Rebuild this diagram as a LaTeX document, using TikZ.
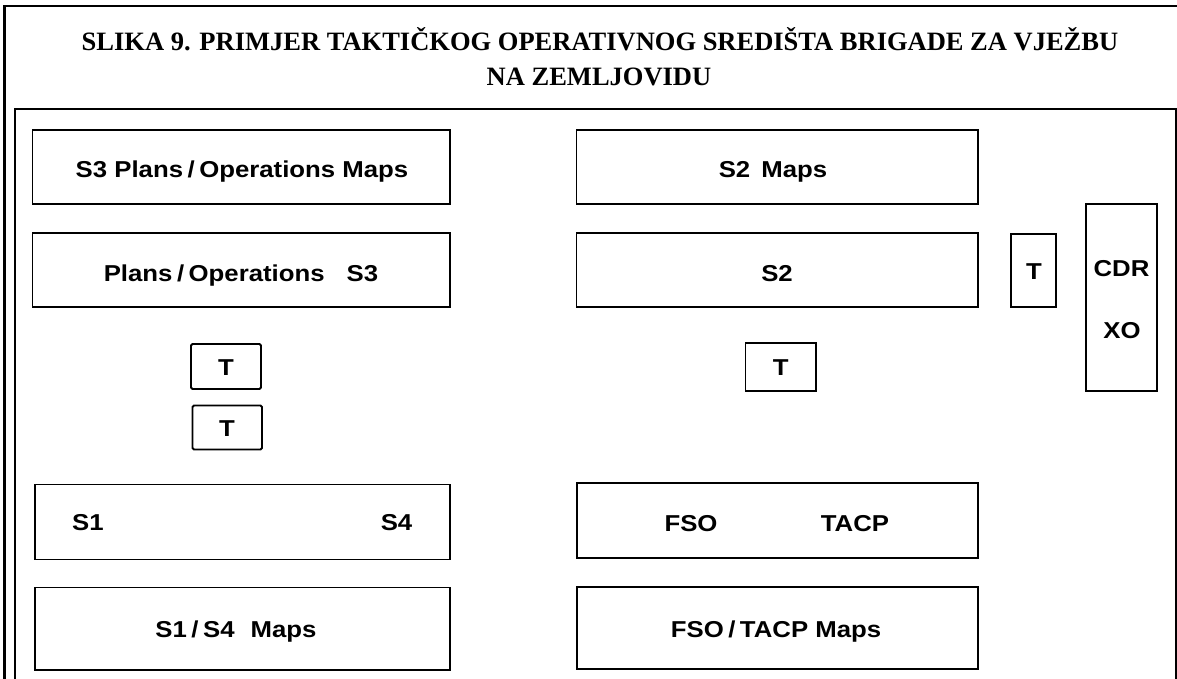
\documentclass[tikz,border=0pt]{standalone}
\usepackage{fontspec}
\newfontfamily\lblfont{Liberation Sans}[FakeStretch=1.12]
\newfontfamily\ttlfont{Liberation Serif}
\newcommand\slsh{\hspace{4.5pt}/\hspace{4.5pt}}
\begin{document}
\begin{tikzpicture}[x=1pt,y=-1pt,
  bx/.style={draw, line width=1.8pt, inner sep=0pt, rectangle},
  tbx/.style={draw, line width=1.8pt, inner sep=0pt, rectangle, rounded corners=1.5pt},
  lbl/.style={font=\lblfont\bfseries\fontsize{23}{23}\selectfont, anchor=base, inner sep=0pt},
  ttl/.style={font=\ttlfont\bfseries\fontsize{26.5}{26.5}\selectfont, anchor=base, inner sep=0pt}]
\useasboundingbox (0,0) rectangle (1177,679);
\clip (0,0) rectangle (1177,679);
% frames
\draw[line width=2.6pt] (4.5,6) rectangle (1200,720);
\draw[line width=2pt] (14.7,720) -- (14.7,108.7) -- (1200,108.7);
\draw[line width=1.2pt] (1176,108.7) -- (1176,720);
% title
\node[ttl] (title1) at (600,51) {SLIKA 9. PRIMJER TAKTIČKOG OPERATIVNOG SREDIŠTA BRIGADE ZA VJEŽBU};
\node[ttl] (title2) at (599,86) {NA ZEMLJOVIDU};
% boxes
\node[bx, minimum width=417.5pt, minimum height=74pt] (s3maps) at (241.25,167) {};
\node[bx, minimum width=417.5pt, minimum height=74pt] (s3) at (241.25,270) {};
\node[bx, minimum width=401.5pt, minimum height=74pt] (s2maps) at (777.25,167) {};
\node[bx, minimum width=401.5pt, minimum height=74pt] (s2) at (777.25,270) {};
\node[bx, minimum width=45pt, minimum height=73pt] (ts2) at (1033.5,270.5) {};
\node[bx, minimum width=71pt, minimum height=187pt] (cdr) at (1121.5,297.5) {};
\node[tbx, minimum width=70pt, minimum height=45pt] (t1) at (226,366.5) {};
\node[tbx, minimum width=69.5pt, minimum height=44pt] (t2) at (227.25,427.5) {};
\node[bx, minimum width=70.6pt, minimum height=48pt] (tmid) at (780.7,367) {};
\node[bx, minimum width=415pt, minimum height=75pt] (s1s4) at (242.5,522) {};
\node[bx, minimum width=415pt, minimum height=82.5pt] (s1s4maps) at (242.5,628.75) {};
\node[bx, minimum width=401.6pt, minimum height=75pt] (fso) at (777.5,520.8) {};
\node[bx, minimum width=401.6pt, minimum height=81.7pt] (fsomaps) at (777.5,628.2) {};
% labels
\node[lbl] (l-s3maps) at (242,178) {S3 Plans\slsh Operations Maps};
\node[lbl] (l-s3) at (241,281) {Plans\slsh Operations\hspace{22pt}S3};
\node[lbl] (l-s2maps) at (773,178) {S2\hspace{4pt} Maps};
\node[lbl] (l-s2) at (777,281) {S2};
\node[lbl] (l-ts2) at (1034,279) {T};
\node[lbl] (l-cdr) at (1121.5,276) {CDR};
\node[lbl] (l-xo) at (1122,338) {XO};
\node[lbl] (l-t1) at (226,375) {T};
\node[lbl] (l-t2) at (227,436) {T};
\node[lbl] (l-tmid) at (780.7,375.5) {T};
\node[lbl] (l-s1) at (88,530) {S1};
\node[lbl] (l-s4) at (396.5,530) {S4};
\node[lbl] (l-s1s4maps) at (236,637) {S1\slsh S4\hspace{16pt}Maps};
\node[lbl] (l-fso) at (691,531.5) {FSO};
\node[lbl] (l-tacp) at (855,531.5) {TACP};
\node[lbl] (l-fsomaps) at (776,637) {FSO\slsh TACP Maps};
\end{tikzpicture}
\end{document}
